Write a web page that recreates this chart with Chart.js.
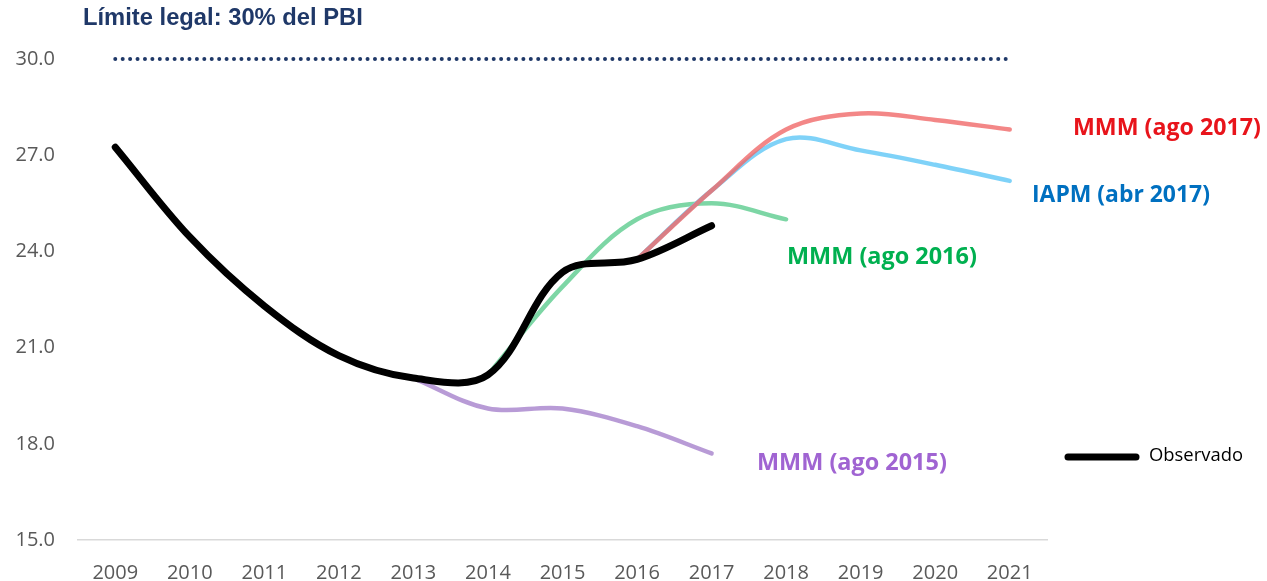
<!DOCTYPE html>
<html>
<head>
<meta charset="utf-8">
<script src="https://cdn.jsdelivr.net/npm/chart.js@4"></script>
<style>
  html, body { margin: 0; padding: 0; background: #fff; }
  #wrap { width: 1267px; height: 581px; }
</style>
</head>
<body>
<div id="wrap"><canvas id="deuda"></canvas></div>
<script>
// years on the x axis
const years = ['2009', '2010', '2011', '2012', '2013', '2014', '2015', '2016', '2017', '2018', '2019', '2020', '2021'];
// debt as % of GDP
const observado   = [27.25, 24.45, 22.3, 20.75, 20.05, 20.15, 23.35, 23.75, 24.8, null, null, null, null];
const mmmAgo2015  = [null, null, null, null, 20.05, 19.1, 19.1, 18.55, 17.7, null, null, null, null];
const mmmAgo2016  = [null, null, null, null, null, 20.15, 22.9, 25.0, 25.5, 25.0, null, null, null];
const iapmAbr2017 = [null, null, null, null, null, null, null, 23.75, 25.9, 27.5, 27.15, 26.7, 26.2];
const mmmAgo2017  = [null, null, null, null, null, null, null, 23.75, 25.9, 27.8, 28.3, 28.1, 27.8];
const limite      = [30, 30, 30, 30, 30, 30, 30, 30, 30, 30, 30, 30, 30];
const yTicks = [15, 18, 21, 24, 27, 30];

// text drawn next to the lines
const etiquetas = [
    { text: 'MMM (ago 2017)', x: 1073, y: 128, w: 188, color: '#e8141b' },
    { text: 'IAPM (abr 2017)', x: 1032, y: 195, w: 178, color: '#0070c0' },
    { text: 'MMM (ago 2016)', x: 787, y: 257, w: 190, color: '#00b050' },
    { text: 'MMM (ago 2015)', x: 757, y: 463, w: 190, color: '#a064d2' }
];

function fitFont(ctx, text, weight, family, width) {
    ctx.font = weight + ' 100px ' + family;
    let size = 100 * width / ctx.measureText(text).width;
    ctx.font = weight + ' ' + size + 'px ' + family;
}

const textosPlugin = {
    id: 'textos',
    afterDraw(chart) {
        const ctx = chart.ctx;
        ctx.save();
        ctx.textAlign = 'left';
        ctx.textBaseline = 'middle';
        // title
        fitFont(ctx, 'Límite legal: 30% del PBI', 'bold', '"Liberation Sans", Arial, sans-serif', 280);
        ctx.fillStyle = '#1f3868';
        ctx.fillText('Límite legal: 30% del PBI', 83, 18);
        // series labels
        etiquetas.forEach(e => {
            fitFont(ctx, e.text, 'bold', '"Open Sans", sans-serif', e.w);
            ctx.fillStyle = e.color;
            ctx.fillText(e.text, e.x, e.y);
        });
        // legend for observado
        ctx.strokeStyle = '#000';
        ctx.lineWidth = 7;
        ctx.lineCap = 'round';
        ctx.beginPath();
        ctx.moveTo(1068, 457);
        ctx.lineTo(1136, 457);
        ctx.stroke();
        fitFont(ctx, 'Observado', 'normal', '"Open Sans", sans-serif', 94);
        ctx.fillStyle = '#000';
        ctx.fillText('Observado', 1149, 456);
        ctx.restore();
    }
};

const ctx = document.getElementById('deuda').getContext('2d');
const chart = new Chart(ctx, {
    type: 'line',
    data: {
        labels: years,
        datasets: [
            { label: 'Observado', data: observado, borderColor: '#000000', borderWidth: 7, borderCapStyle: 'round' },
            { label: 'MMM (ago 2017)', data: mmmAgo2017, borderColor: 'rgba(240,105,105,0.8)', borderWidth: 4.5, borderCapStyle: 'round' },
            { label: 'IAPM (abr 2017)', data: iapmAbr2017, borderColor: 'rgba(120,208,248,0.95)', borderWidth: 4.5, borderCapStyle: 'round' },
            { label: 'MMM (ago 2016)', data: mmmAgo2016, borderColor: 'rgba(118,212,160,0.95)', borderWidth: 4.5, borderCapStyle: 'round' },
            { label: 'MMM (ago 2015)', data: mmmAgo2015, borderColor: 'rgba(180,150,212,0.95)', borderWidth: 4.5, borderCapStyle: 'round' },
            { label: 'Límite legal', data: limite, borderColor: '#1f3868', borderWidth: 4, borderDash: [0.01, 7.41], borderCapStyle: 'round', tension: 0, clip: false }
        ]
    },
    options: {
        responsive: true,
        maintainAspectRatio: false,
        animation: false,
        layout: { padding: { left: 0, right: 220, top: 59, bottom: 0 } },
        elements: {
            point: { radius: 0, hoverRadius: 0 },
            line: { tension: 0.35, fill: false }
        },
        plugins: {
            legend: { display: false },
            tooltip: { enabled: false }
        },
        scales: {
            x: {
                offset: true,
                grid: { display: false, drawTicks: false },
                border: { display: true, color: '#d9d9d9', width: 1.5 },
                ticks: { color: '#595959', font: { family: '"Open Sans", sans-serif', size: 20 }, padding: 21, maxRotation: 0 },
                afterFit(scale) { scale.height = 41; }
            },
            y: {
                min: 15,
                max: 30,
                grid: { display: false, drawTicks: false },
                border: { display: false },
                afterBuildTicks(scale) { scale.ticks = yTicks.map(v => ({ value: v })); },
                ticks: {
                    color: '#595959',
                    font: { family: '"Open Sans", sans-serif', size: 20 },
                    padding: 23,
                    callback: v => v.toFixed(1)
                },
                afterFit(scale) { scale.width = 78; }
            }
        }
    },
    plugins: [textosPlugin]
});
</script>
</body>
</html>
